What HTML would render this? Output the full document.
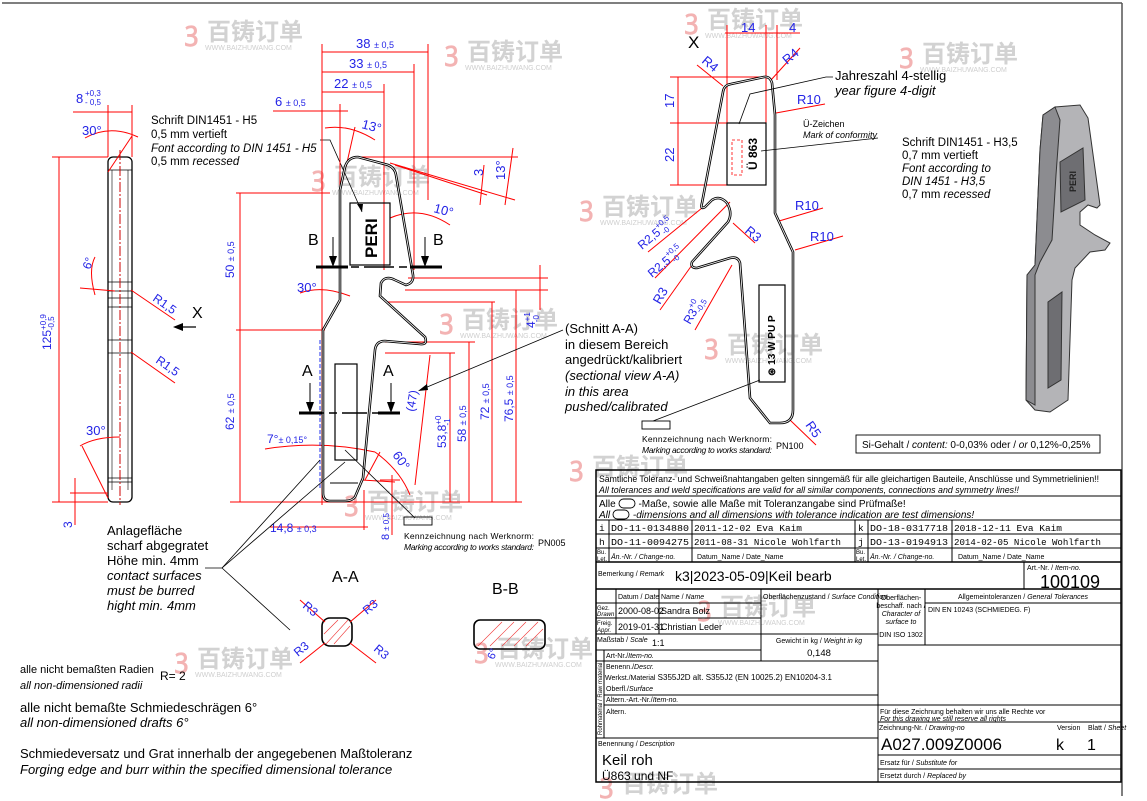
<!DOCTYPE html>
<html><head><meta charset="utf-8"><style>
html,body{margin:0;padding:0;background:#fff;}
svg{display:block;font-family:"Liberation Sans",Arial,sans-serif;}
.b{fill:#2323e6}
.r{stroke:#f00;stroke-width:1;fill:none}
.k{stroke:#000;fill:none}
.wm{fill:#d2d2d2;font-weight:bold;font-family:"Liberation Sans","Noto Sans CJK SC",sans-serif}
.wp{fill:#f3b3b3;font-weight:bold}
.ws{fill:#cfcfcf;font-size:7px}
.t{font-size:7px}
.mono{font-family:"Liberation Mono","DejaVu Sans Mono",monospace;font-size:9.5px}
</style></head><body>
<svg width="1147" height="801" viewBox="0 0 1147 801" xmlns="http://www.w3.org/2000/svg">
<rect x="0" y="0" width="1147" height="801" fill="#fff"/>
<g>
<g transform="translate(185,20)"><text class="wp" x="0" y="20" font-size="26">ꝫ</text><text class="wm" x="22" y="20" font-size="24">百铸订单</text><text class="ws" x="20" y="30">WWW.BAIZHUWANG.COM</text></g>
<g transform="translate(445,40)"><text class="wp" x="0" y="20" font-size="26">ꝫ</text><text class="wm" x="22" y="20" font-size="24">百铸订单</text><text class="ws" x="20" y="30">WWW.BAIZHUWANG.COM</text></g>
<g transform="translate(685,8)"><text class="wp" x="0" y="20" font-size="26">ꝫ</text><text class="wm" x="22" y="20" font-size="24">百铸订单</text><text class="ws" x="20" y="30">WWW.BAIZHUWANG.COM</text></g>
<g transform="translate(900,42)"><text class="wp" x="0" y="20" font-size="26">ꝫ</text><text class="wm" x="22" y="20" font-size="24">百铸订单</text><text class="ws" x="20" y="30">WWW.BAIZHUWANG.COM</text></g>
<g transform="translate(312,165)"><text class="wp" x="0" y="20" font-size="26">ꝫ</text><text class="wm" x="22" y="20" font-size="24">百铸订单</text><text class="ws" x="20" y="30">WWW.BAIZHUWANG.COM</text></g>
<g transform="translate(580,195)"><text class="wp" x="0" y="20" font-size="26">ꝫ</text><text class="wm" x="22" y="20" font-size="24">百铸订单</text><text class="ws" x="20" y="30">WWW.BAIZHUWANG.COM</text></g>
<g transform="translate(440,308)"><text class="wp" x="0" y="20" font-size="26">ꝫ</text><text class="wm" x="22" y="20" font-size="24">百铸订单</text><text class="ws" x="20" y="30">WWW.BAIZHUWANG.COM</text></g>
<g transform="translate(705,333)"><text class="wp" x="0" y="20" font-size="26">ꝫ</text><text class="wm" x="22" y="20" font-size="24">百铸订单</text><text class="ws" x="20" y="30">WWW.BAIZHUWANG.COM</text></g>
<g transform="translate(570,455)"><text class="wp" x="0" y="20" font-size="26">ꝫ</text><text class="wm" x="22" y="20" font-size="24">百铸订单</text></g>
<g transform="translate(345,490)"><text class="wp" x="0" y="20" font-size="26">ꝫ</text><text class="wm" x="22" y="20" font-size="24">百铸订单</text><text class="ws" x="20" y="30">WWW.BAIZHUWANG.COM</text></g>
<g transform="translate(698,595)"><text class="wp" x="0" y="20" font-size="26">ꝫ</text><text class="wm" x="22" y="20" font-size="24">百铸订单</text><text class="ws" x="20" y="30">WWW.BAIZHUWANG.COM</text></g>
<g transform="translate(475,637)"><text class="wp" x="0" y="20" font-size="26">ꝫ</text><text class="wm" x="22" y="20" font-size="24">百铸订单</text><text class="ws" x="20" y="30">WWW.BAIZHUWANG.COM</text></g>
<g transform="translate(175,647)"><text class="wp" x="0" y="20" font-size="26">ꝫ</text><text class="wm" x="22" y="20" font-size="24">百铸订单</text><text class="ws" x="20" y="30">WWW.BAIZHUWANG.COM</text></g>
<g transform="translate(600,772)"><text class="wp" x="0" y="20" font-size="26">ꝫ</text><text class="wm" x="22" y="20" font-size="24">百铸订单</text></g>
</g>

<line x1="2" y1="3" x2="1122" y2="3" stroke="#555" stroke-width="1.5"/>
<line x1="1122" y1="3" x2="1122" y2="796" stroke="#555" stroke-width="1.5"/>

<g>
<rect x="108" y="157" width="24" height="345" rx="5" class="k" stroke-width="1.3"/>
<line x1="112" y1="170" x2="112" y2="490" class="k" stroke-width=".6"/>
<line x1="128" y1="170" x2="128" y2="490" class="k" stroke-width=".6"/>
<g class="k" stroke-width=".8">
<line x1="108" y1="170" x2="132" y2="170"/><line x1="108" y1="282" x2="132" y2="282"/><line x1="108" y1="291" x2="132" y2="291"/><line x1="108" y1="298" x2="132" y2="298"/><line x1="108" y1="307" x2="132" y2="307"/><line x1="108" y1="340" x2="132" y2="340"/><line x1="108" y1="353" x2="132" y2="353"/><line x1="108" y1="478" x2="132" y2="478"/><line x1="108" y1="482" x2="132" y2="482"/>
</g>
<line x1="120" y1="150" x2="120" y2="505" stroke="#c00" stroke-width="1" stroke-dasharray="10,2,2,2"/>
<g class="r">
<line x1="59" y1="157" x2="59" y2="502"/><line x1="52" y1="157" x2="108" y2="157"/><line x1="52" y1="502" x2="108" y2="502"/>
<line x1="73" y1="112" x2="132" y2="112"/><line x1="108" y1="105" x2="108" y2="157"/><line x1="132" y1="105" x2="132" y2="157"/>
<path d="M85,138 Q110,124 138,137"/><line x1="108" y1="172" x2="132" y2="136"/>
<path d="M95,257 Q88,270 95,295"/><line x1="80" y1="288" x2="115" y2="291"/>
<line x1="131" y1="290" x2="175" y2="320"/><line x1="131" y1="352" x2="175" y2="383"/>
<path d="M80,446 Q95,437 120,437"/><line x1="82" y1="446" x2="108" y2="498"/>
<line x1="75" y1="478" x2="75" y2="525"/><line x1="70" y1="493" x2="108" y2="493"/>
</g>
<text class="b" font-size="12" transform="translate(51,350) rotate(-90)">125<tspan font-size="8" dy="-5">+0,9</tspan><tspan font-size="8" dx="-16" dy="8">-0,5</tspan></text>
<text class="b" x="76" y="103" font-size="13">8</text><text class="b" x="85" y="96" font-size="8">+0,3</text><text class="b" x="85" y="105" font-size="8">- 0,5</text>
<text class="b" x="82" y="135" font-size="13">30°</text>
<text class="b" font-size="12" transform="translate(90,270) rotate(-70)">6°</text>
<text class="b" font-size="12" transform="translate(152,300) rotate(35)">R1,5</text>
<text class="b" font-size="12" transform="translate(155,362) rotate(35)">R1,5</text>
<text class="b" x="86" y="435" font-size="13">30°</text>
<text class="b" font-size="12" transform="translate(72,528) rotate(-90)">3</text>
<text x="192" y="318" font-size="16">X</text>
<line x1="178" y1="327" x2="196" y2="327" stroke="#000" stroke-width="1.2"/><path d="M173,327 L183,323 L183,331 Z" fill="#000"/>
</g>

<g font-size="11.5">
<text x="151" y="124">Schrift DIN1451 - H5</text>
<text x="151" y="138">0,5 mm vertieft</text>
<text x="151" y="152" font-style="italic">Font according to DIN 1451 - H5</text>
<text x="151" y="165">0,5 mm <tspan font-style="italic">recessed</tspan></text>
</g>
<polyline points="320,140 330,140 362,212" fill="none" stroke="#000" stroke-width=".8"/>
<path d="M362,212 L357,204 L363,204 Z" fill="#000"/>

<g class="r">
<line x1="322" y1="44" x2="322" y2="505"/><line x1="428" y1="44" x2="428" y2="200"/><line x1="414" y1="64" x2="414" y2="270"/><line x1="384" y1="84" x2="384" y2="270"/><line x1="340" y1="104" x2="340" y2="195"/>
<line x1="322" y1="52" x2="428" y2="52"/><line x1="322" y1="72" x2="414" y2="72"/><line x1="322" y1="92" x2="384" y2="92"/><line x1="273" y1="111" x2="348" y2="111"/>
<path d="M325,128 Q350,124 375,140"/><line x1="346" y1="167" x2="355" y2="127"/>
<line x1="358" y1="157" x2="518" y2="157"/><line x1="395" y1="165" x2="487" y2="195"/><line x1="390" y1="163" x2="515" y2="200"/>
<line x1="484" y1="165" x2="480" y2="205"/><line x1="513" y1="148" x2="505" y2="205"/>
<path d="M390,218 Q420,205 450,225"/>
<path d="M300,293 Q322,285 350,296"/>
<line x1="236" y1="193" x2="330" y2="193"/><line x1="240" y1="193" x2="240" y2="502"/><line x1="236" y1="330" x2="325" y2="330"/>
<line x1="230" y1="502" x2="522" y2="502"/>
<line x1="408" y1="278" x2="548" y2="278"/><line x1="405" y1="290" x2="548" y2="290"/><line x1="540" y1="265" x2="540" y2="310"/><line x1="516" y1="290" x2="516" y2="502"/>
<line x1="385" y1="302" x2="495" y2="302"/><line x1="492" y1="302" x2="492" y2="502"/>
<line x1="385" y1="342" x2="475" y2="342"/><line x1="469" y1="342" x2="469" y2="502"/>
<line x1="385" y1="353" x2="455" y2="353"/><line x1="450" y1="353" x2="450" y2="502"/>
<line x1="430" y1="355" x2="415" y2="485"/>
<line x1="362" y1="480" x2="395" y2="482"/>
<path d="M265,449 Q320,440 375,452"/><path d="M375,452 Q400,470 410,495"/><line x1="365" y1="480" x2="380" y2="452"/>
<line x1="270" y1="527" x2="368" y2="527"/><line x1="364" y1="490" x2="364" y2="530"/>
<line x1="392" y1="475" x2="392" y2="535"/><line x1="380" y1="480" x2="400" y2="480"/>
</g>
<line x1="320" y1="340" x2="320" y2="490" stroke="#23e" stroke-width="1" stroke-dasharray="4,2"/>
<path d="M323,493 L323,330 L340,300 L340,190 L345,167 Q348,157 358,157 L388,165 Q395,168 396,175 L413,275 Q414,283 406,285 L395,280 Q385,275 381,283 L380,296 L425,337 Q428,345 420,344 L385,341 Q376,341 375,350 L363,478 L355,497 Q352,501 345,501 L330,501 Q323,501 323,493 Z" fill="none" stroke="#000" stroke-width="2.6"/>
<path d="M323,493 L323,330 L340,300 L340,190 L345,167 Q348,157 358,157 L388,165 Q395,168 396,175 L413,275 Q414,283 406,285 L395,280 Q385,275 381,283 L380,296 L425,337 Q428,345 420,344 L385,341 Q376,341 375,350 L363,478 L355,497 Q352,501 345,501 L330,501 Q323,501 323,493 Z" fill="none" stroke="#fff" stroke-width=".8"/>
<line x1="330" y1="483" x2="358" y2="483" stroke="#000" stroke-width="1"/>
<rect x="350" y="203" width="40" height="62" fill="none" stroke="#000" stroke-width="1.2"/>
<text font-size="17" font-weight="bold" transform="translate(377,258) rotate(-90)">PERI</text>
<rect x="335" y="364" width="22" height="96" fill="none" stroke="#000" stroke-width="1.2"/>
<line x1="316" y1="267" x2="442" y2="267" stroke="#000" stroke-width="1.5" stroke-dasharray="30,5,8,5"/>
<line x1="316" y1="267" x2="348" y2="267" stroke="#000" stroke-width="3"/><line x1="410" y1="267" x2="442" y2="267" stroke="#000" stroke-width="3"/>
<line x1="333" y1="237" x2="333" y2="262" stroke="#000"/><path d="M329,256 L337,256 L333,267 Z" fill="#000"/>
<line x1="425" y1="237" x2="425" y2="262" stroke="#000"/><path d="M421,256 L429,256 L425,267 Z" fill="#000"/>
<text x="308" y="245" font-size="16">B</text><text x="433" y="245" font-size="16">B</text>
<line x1="299" y1="413" x2="400" y2="413" stroke="#000" stroke-width="1.5" stroke-dasharray="25,5,8,5"/>
<line x1="299" y1="413" x2="322" y2="413" stroke="#000" stroke-width="3"/><line x1="378" y1="413" x2="400" y2="413" stroke="#000" stroke-width="3"/>
<line x1="310" y1="383" x2="310" y2="408" stroke="#000"/><path d="M306,402 L314,402 L310,413 Z" fill="#000"/>
<line x1="391" y1="383" x2="391" y2="408" stroke="#000"/><path d="M387,402 L395,402 L391,413 Z" fill="#000"/>
<text x="302" y="376" font-size="16">A</text><text x="383" y="376" font-size="16">A</text>
<text class="b" x="356" y="48" font-size="13">38 <tspan font-size="9">± 0,5</tspan></text>
<text class="b" x="349" y="68" font-size="13">33 <tspan font-size="9">± 0,5</tspan></text>
<text class="b" x="334" y="88" font-size="13">22 <tspan font-size="9">± 0,5</tspan></text>
<text class="b" x="275" y="106" font-size="13">6 <tspan font-size="9">± 0,5</tspan></text>
<text class="b" font-size="13" transform="translate(361,128) rotate(15)">13°</text>
<text class="b" font-size="13" transform="translate(483,176) rotate(-90)">3</text>
<text class="b" font-size="13" transform="translate(505,180) rotate(-90)">13°</text>
<text class="b" font-size="13" transform="translate(433,212) rotate(15)">10°</text>
<text class="b" x="297" y="292" font-size="13">30°</text>
<text class="b" font-size="12" transform="translate(234,278) rotate(-90)">50 <tspan font-size="9">± 0,5</tspan></text>
<text class="b" font-size="12" transform="translate(234,430) rotate(-90)">62 <tspan font-size="9">± 0,5</tspan></text>
<text class="b" font-size="12" transform="translate(535,328) rotate(-90)">4<tspan font-size="8" dy="-5">+1</tspan><tspan font-size="8" dx="-10" dy="9">-0</tspan></text>
<text class="b" font-size="12" transform="translate(513,422) rotate(-90)">76,5 <tspan font-size="9">± 0,5</tspan></text>
<text class="b" font-size="12" transform="translate(489,420) rotate(-90)">72 <tspan font-size="9">± 0,5</tspan></text>
<text class="b" font-size="12" transform="translate(466,442) rotate(-90)">58 <tspan font-size="9">± 0,5</tspan></text>
<text class="b" font-size="12" transform="translate(446,448) rotate(-90)">53,8<tspan font-size="8" dy="-5">+0</tspan><tspan font-size="8" dx="-10" dy="9">-1</tspan></text>
<text class="b" font-size="12" transform="translate(414,412) rotate(-80)">(47)</text>
<text class="b" x="267" y="443" font-size="12">7°<tspan font-size="9">± 0,15°</tspan></text>
<text class="b" font-size="13" transform="translate(392,455) rotate(55)">60°</text>
<text class="b" x="270" y="532" font-size="12">14,8 <tspan font-size="9">± 0,3</tspan></text>
<text class="b" font-size="11" transform="translate(389,540) rotate(-90)">8 <tspan font-size="8">± 0,5</tspan></text>
<g font-size="13">
<text x="565" y="333">(Schnitt A-A)</text>
<text x="565" y="349">in diesem Bereich</text>
<text x="565" y="364">angedrückt/kalibriert</text>
<text x="565" y="380" font-style="italic">(sectional view A-A)</text>
<text x="565" y="396" font-style="italic">in this area</text>
<text x="565" y="411" font-style="italic">pushed/calibrated</text>
</g>
<line x1="563" y1="330" x2="420" y2="390" stroke="#000" stroke-width=".8"/><path d="M418,391 L427,384 L428,390 Z" fill="#000"/>
<line x1="345" y1="450" x2="415" y2="518" stroke="#000" stroke-width=".8"/>
<rect x="404" y="517" width="28" height="8" fill="none" stroke="#000" stroke-width=".9"/>
<text x="404" y="539" font-size="8.5" textLength="130">Kennzeichnung    nach    Werknorm:</text>
<text x="404" y="550" font-size="8.5" font-style="italic" textLength="130">Marking according to works standard:</text>
<text x="538" y="546" font-size="9">PN005</text>
<g font-size="13">
<text x="107" y="535">Anlagefläche</text>
<text x="107" y="550">scharf abgegratet</text>
<text x="107" y="565">Höhe min. 4mm</text>
<text x="107" y="580" font-style="italic">contact surfaces</text>
<text x="107" y="595" font-style="italic">must be burred</text>
<text x="107" y="610" font-style="italic">hight min. 4mm</text>
</g>
<polyline points="205,568 222,568 320,460" fill="none" stroke="#000" stroke-width=".8"/>
<line x1="222" y1="568" x2="290" y2="630" stroke="#000" stroke-width=".8"/>
<line x1="222" y1="568" x2="345" y2="462" stroke="#000" stroke-width=".8"/>
<text x="332" y="582" font-size="16">A-A</text>
<rect x="322" y="618" width="30" height="28" rx="8" fill="none" stroke="#000" stroke-width="1.6"/>
<g stroke="#e33" stroke-width=".6"><line x1="326" y1="644" x2="348" y2="620"/><line x1="334" y1="644" x2="350" y2="626"/><line x1="324" y1="634" x2="338" y2="620"/></g>
<g class="r"><line x1="300" y1="600" x2="325" y2="622"/><line x1="376" y1="600" x2="350" y2="622"/><line x1="300" y1="663" x2="325" y2="643"/><line x1="376" y1="663" x2="350" y2="643"/></g>
<text class="b" font-size="12" transform="translate(302,607) rotate(40)">R3</text>
<text class="b" font-size="12" transform="translate(367,615) rotate(-40)">R3</text>
<text class="b" font-size="12" transform="translate(298,657) rotate(-40)">R3</text>
<text class="b" font-size="12" transform="translate(373,650) rotate(40)">R3</text>
<text x="492" y="594" font-size="16">B-B</text>
<rect x="474" y="620" width="71" height="29" rx="6" fill="none" stroke="#000" stroke-width="1.6"/>
<g stroke="#e33" stroke-width=".6"><line x1="478" y1="646" x2="502" y2="622"/><line x1="490" y1="646" x2="514" y2="622"/><line x1="502" y1="646" x2="526" y2="622"/><line x1="514" y1="646" x2="538" y2="622"/><line x1="526" y1="646" x2="543" y2="629"/></g>
<text class="b" font-size="11" transform="translate(494,660) rotate(-70)">6°</text>
<text x="20" y="673" font-size="11">alle nicht bemaßten Radien</text><text x="160" y="680" font-size="12">R= 2</text>
<text x="20" y="689" font-size="11" font-style="italic">all   non-dimensioned radii</text>
<text x="20" y="712" font-size="13">alle nicht bemaßte Schmiedeschrägen 6°</text>
<text x="20" y="727" font-size="13" font-style="italic">all non-dimensioned drafts 6°</text>
<text x="20" y="758" font-size="13">Schmiedeversatz und Grat innerhalb der angegebenen Maßtoleranz</text>
<text x="20" y="774" font-size="13" font-style="italic">Forging edge and burr within the specified dimensional tolerance</text>

<g class="r">
<line x1="727" y1="25" x2="727" y2="125"/><line x1="766" y1="25" x2="766" y2="125"/><line x1="777" y1="25" x2="777" y2="80"/>
<line x1="725" y1="33" x2="800" y2="33"/>
<line x1="670" y1="77" x2="765" y2="77"/><line x1="670" y1="123" x2="727" y2="123"/><line x1="670" y1="185" x2="727" y2="185"/><line x1="678" y1="77" x2="678" y2="185"/>
<line x1="697" y1="65" x2="723" y2="86"/><line x1="800" y1="48" x2="771" y2="80"/>
<line x1="776" y1="113" x2="825" y2="104"/><line x1="779" y1="221" x2="823" y2="208"/><line x1="795" y1="250" x2="843" y2="236"/>
<line x1="648" y1="252" x2="702" y2="208"/><line x1="655" y1="278" x2="730" y2="202"/>
<line x1="733" y1="223" x2="755" y2="243"/>
<line x1="660" y1="310" x2="692" y2="265"/><line x1="695" y1="330" x2="732" y2="265"/>
<line x1="790" y1="420" x2="816" y2="445"/>
</g>
<path d="M723,92 Q724,85 731,84 L764,77 Q770,76 772,83 L775,115 L775,213 L793,252 L793,410 Q793,423 780,423 L770,423 L750,398 L740,263 Q738,256 730,258 L697,268 Q690,268 692,262 L728,222 Q733,213 727,203 Q720,195 712,200 L705,207 Q700,210 702,203 Z" fill="none" stroke="#000" stroke-width="2.6"/>
<path d="M723,92 Q724,85 731,84 L764,77 Q770,76 772,83 L775,115 L775,213 L793,252 L793,410 Q793,423 780,423 L770,423 L750,398 L740,263 Q738,256 730,258 L697,268 Q690,268 692,262 L728,222 Q733,213 727,203 Q720,195 712,200 L705,207 Q700,210 702,203 Z" fill="none" stroke="#fff" stroke-width=".8"/>
<rect x="727" y="123" width="39" height="62" fill="none" stroke="#000" stroke-width="1.2"/>
<rect x="732" y="140" width="10" height="35" fill="none" stroke="#f00" stroke-width=".8" stroke-dasharray="3,2"/>
<text font-size="12" font-weight="bold" transform="translate(757,170) rotate(-90)">Ü 863</text>
<rect x="759" y="285" width="26" height="97" fill="none" stroke="#000" stroke-width="1.2"/>
<text font-size="10" font-weight="bold" transform="translate(775,376) rotate(-90)">⊛ 13 W PU P</text>
<text x="688" y="48" font-size="17">X</text>
<text class="b" x="741" y="32" font-size="13">14</text><text class="b" x="789" y="32" font-size="13">4</text>
<text class="b" font-size="13" transform="translate(701,62) rotate(40)">R4</text>
<text class="b" font-size="13" transform="translate(787,65) rotate(-40)">R4</text>
<text class="b" font-size="13" transform="translate(674,108) rotate(-90)">17</text>
<text class="b" font-size="13" transform="translate(674,162) rotate(-90)">22</text>
<text class="b" x="797" y="104" font-size="13">R10</text>
<text class="b" x="795" y="210" font-size="13">R10</text>
<text class="b" x="810" y="241" font-size="13">R10</text>
<text class="b" font-size="12" transform="translate(642,250) rotate(-40)">R2,5<tspan font-size="8" dy="-6">+0,5</tspan><tspan font-size="8" dx="-14" dy="9">-0</tspan></text>
<text class="b" font-size="12" transform="translate(652,278) rotate(-40)">R2,5<tspan font-size="8" dy="-6">+0,5</tspan><tspan font-size="8" dx="-14" dy="9">-0</tspan></text>
<text class="b" font-size="13" transform="translate(744,232) rotate(40)">R3</text>
<text class="b" font-size="13" transform="translate(660,305) rotate(-60)">R3</text>
<text class="b" font-size="12" transform="translate(690,325) rotate(-60)">R3<tspan font-size="8" dy="-6">+0</tspan><tspan font-size="8" dx="-9" dy="9">-0,5</tspan></text>
<text class="b" font-size="13" transform="translate(805,425) rotate(55)">R5</text>
<polyline points="833,77 826,77 750,94 739,124" fill="none" stroke="#000" stroke-width=".8"/>
<text x="835" y="80" font-size="13">Jahreszahl 4-stellig</text>
<text x="835" y="95" font-size="13" font-style="italic">year figure 4-digit</text>
<text x="803" y="127" font-size="9">Ü-Zeichen</text>
<text x="803" y="138" font-size="9" font-style="italic">Mark of conformity</text>
<line x1="878" y1="138" x2="761" y2="151" stroke="#000" stroke-width=".8"/>
<g font-size="11.5">
<text x="902" y="146">Schrift DIN1451 - H3,5</text>
<text x="902" y="159">0,7 mm vertieft</text>
<text x="902" y="172" font-style="italic">Font according to</text>
<text x="902" y="185" font-style="italic">DIN 1451 - H3,5</text>
<text x="902" y="198">0,7 mm <tspan font-style="italic">recessed</tspan></text>
</g>
<line x1="760" y1="380" x2="653" y2="421" stroke="#000" stroke-width=".8"/>
<rect x="642" y="421" width="28" height="8" fill="none" stroke="#000" stroke-width=".9"/>
<text x="642" y="442" font-size="8.5" textLength="130">Kennzeichnung    nach    Werknorm:</text>
<text x="642" y="453" font-size="8.5" font-style="italic" textLength="130">Marking according to works standard:</text>
<text x="776" y="449" font-size="9">PN100</text>
<rect x="856" y="435" width="244" height="18" fill="none" stroke="#000" stroke-width=".9"/>
<text x="862" y="448" font-size="10">Si-Gehalt / <tspan font-style="italic">content:</tspan> 0-0,03% oder / <tspan font-style="italic">or</tspan> 0,12%-0,25%</text>

<!-- 3D render -->
<g stroke="#333" stroke-width="1">
<path d="M1043,115 L1055,107 L1080,105 L1088,118 L1100,205 L1097,208 L1088,205 L1080,212 L1080,225 L1095,235 L1110,243 L1105,250 L1090,252 L1075,268 L1072,280 L1068,400 L1050,412 L1035,410 L1026,400 L1027,275 L1035,265 L1040,150 Z" fill="#b4b4b7"/>
<path d="M1043,115 L1055,107 L1060,120 L1056,175 L1052,240 L1040,262 L1035,275 L1035,405 L1026,400 L1027,275 L1035,265 L1040,150 Z" fill="#8c8c90"/>
<path d="M1060,162 L1083,148 L1085,200 L1061,212 Z" fill="#6e6e72"/>
<path d="M1048,302 L1062,292 L1061,380 L1048,388 Z" fill="#6e6e72"/>
</g>
<text font-size="9" font-weight="bold" transform="translate(1076,192) rotate(-90)" fill="#222">PERI</text>

<!-- Title block -->
<g stroke="#000" stroke-width="1" fill="none">
<rect x="596" y="470" width="525" height="312" stroke-width="1.5"/>
<line x1="596" y1="496" x2="1121" y2="496"/><line x1="596" y1="520" x2="1121" y2="520"/><line x1="596" y1="534" x2="1121" y2="534"/><line x1="596" y1="548" x2="1121" y2="548"/><line x1="596" y1="562" x2="1121" y2="562" stroke-width="1.5"/><line x1="596" y1="589" x2="1121" y2="589" stroke-width="1.5"/>
<line x1="609" y1="520" x2="609" y2="562"/><line x1="692" y1="520" x2="692" y2="562"/><line x1="855" y1="520" x2="855" y2="562"/><line x1="868" y1="520" x2="868" y2="562"/><line x1="952" y1="520" x2="952" y2="562"/>
<line x1="1024" y1="562" x2="1024" y2="589"/>
<line x1="596" y1="603" x2="761" y2="603"/><line x1="616" y1="589" x2="616" y2="634"/><line x1="659" y1="589" x2="659" y2="634"/><line x1="596" y1="618" x2="761" y2="618"/><line x1="596" y1="634" x2="878" y2="634"/>
<line x1="761" y1="589" x2="761" y2="661"/><line x1="878" y1="589" x2="878" y2="782"/><line x1="925" y1="589" x2="925" y2="645"/>
<line x1="925" y1="603" x2="1121" y2="603"/><line x1="878" y1="645" x2="1121" y2="645"/>
<line x1="596" y1="650" x2="761" y2="650"/><line x1="596" y1="661" x2="878" y2="661"/>
<line x1="604" y1="650" x2="604" y2="738"/>
<line x1="604" y1="695" x2="878" y2="695"/><line x1="604" y1="705" x2="878" y2="705"/><line x1="596" y1="738" x2="878" y2="738"/>
<line x1="878" y1="705" x2="1121" y2="705"/><line x1="878" y1="722" x2="1121" y2="722"/><line x1="878" y1="755" x2="1121" y2="755"/><line x1="878" y1="769" x2="1121" y2="769"/>
</g>
<text x="599" y="482" font-size="9.5" textLength="500" lengthAdjust="spacingAndGlyphs">Sämtliche Toleranz- und Schweißnahtangaben gelten sinngemäß für alle gleichartigen Bauteile, Anschlüsse und Symmetrielinien!!</text>
<text x="599" y="493" font-size="9.5" font-style="italic" textLength="420" lengthAdjust="spacingAndGlyphs">All tolerances and weld specifications are valid for all similar components, connections and symmetry lines!!</text>
<text x="599" y="507" font-size="10">Alle <tspan dx="20">-Maße, sowie alle Maße mit Toleranzangabe sind Prüfmaße!</tspan></text>
<text x="599" y="518" font-size="10" font-style="italic">All <tspan dx="20">-dimensions and all dimensions with tolerance indication are test dimensions!</tspan></text>
<rect x="619" y="499" width="16" height="9" rx="4.5" fill="none" stroke="#000" stroke-width=".9"/>
<rect x="613" y="510" width="16" height="9" rx="4.5" fill="none" stroke="#000" stroke-width=".9"/>
<g class="mono">
<text x="599" y="531">i</text><text x="611" y="531" textLength="78" lengthAdjust="spacingAndGlyphs">DO-11-0134880</text><text x="694" y="531" textLength="108" lengthAdjust="spacingAndGlyphs">2011-12-02 Eva Kaim</text><text x="858" y="531">k</text><text x="870" y="531" textLength="78" lengthAdjust="spacingAndGlyphs">DO-18-0317718</text><text x="954" y="531" textLength="108" lengthAdjust="spacingAndGlyphs">2018-12-11 Eva Kaim</text>
<text x="599" y="545">h</text><text x="611" y="545" textLength="78" lengthAdjust="spacingAndGlyphs">DO-11-0094275</text><text x="694" y="545" textLength="147" lengthAdjust="spacingAndGlyphs">2011-08-31 Nicole Wohlfarth</text><text x="858" y="545">j</text><text x="870" y="545" textLength="78" lengthAdjust="spacingAndGlyphs">DO-13-0194913</text><text x="954" y="545" textLength="147" lengthAdjust="spacingAndGlyphs">2014-02-05 Nicole Wohlfarth</text>
</g>
<g class="t">
<text x="597" y="554" font-size="6">Bu.</text><text x="597" y="561" font-size="6">Let.</text>
<text x="611" y="559" font-style="italic">Än.-Nr. / Change-no.</text><text x="697" y="559">Datum_Name / Date_Name</text>
<text x="856" y="554" font-size="6">Bu.</text><text x="856" y="561" font-size="6">Let.</text>
<text x="870" y="559" font-style="italic">Än.-Nr. / Change-no.</text><text x="958" y="559">Datum_Name / Date_Name</text>
<text x="598" y="576">Bemerkung / <tspan font-style="italic">Remark</tspan></text>
<text x="1027" y="570">Art.-Nr. / <tspan font-style="italic">Item-no.</tspan></text>
<text x="618" y="599">Datum / <tspan font-style="italic">Date</tspan></text>
<text x="661" y="599">Name / <tspan font-style="italic">Name</tspan></text>
<text x="763" y="599">Oberflächenzustand / <tspan font-style="italic">Surface Condition</tspan></text>
<text x="1023" y="599" text-anchor="middle">Allgemeintoleranzen / <tspan font-style="italic">General Tolerances</tspan></text>
<text x="901" y="600" text-anchor="middle">Oberflächen-</text><text x="901" y="608" text-anchor="middle">beschaff. nach /</text><text x="901" y="616" text-anchor="middle" font-style="italic">Character of</text><text x="901" y="624" text-anchor="middle" font-style="italic">surface to</text><text x="901" y="637" text-anchor="middle">DIN ISO 1302</text>
<text x="928" y="612">DIN EN 10243 (SCHMIEDEG. F)</text>
<text x="597" y="610" font-size="6">Gez.</text><text x="597" y="616" font-size="6" font-style="italic">Drawn</text>
<text x="597" y="625" font-size="6">Freig.</text><text x="597" y="632" font-size="6" font-style="italic">Appr.</text>
<text x="597" y="642">Maßstab / <tspan font-style="italic">Scale</tspan></text>
<text x="819" y="643" text-anchor="middle">Gewicht in kg / <tspan font-style="italic">Weight in kg</tspan></text>
<text x="606" y="658">Art-Nr./<tspan font-style="italic">Item-no.</tspan></text>
<text x="606" y="669">Benenn./<tspan font-style="italic">Descr.</tspan></text>
<text x="606" y="691">Oberfl./<tspan font-style="italic">Surface</tspan></text>
<text x="606" y="702">Altern.-Art.-Nr./<tspan font-style="italic">Item-no.</tspan></text>
<text x="606" y="714">Altern.</text>
<text x="598" y="746">Benennung / <tspan font-style="italic">Description</tspan></text>
<text x="880" y="714">Für diese Zeichnung behalten wir uns alle Rechte vor</text>
<text x="880" y="721" font-style="italic">For this drawing we still reserve all rights</text>
<text x="879" y="730">Zeichnung-Nr. / <tspan font-style="italic">Drawing-no</tspan></text>
<text x="1057" y="730">Version</text><text x="1088" y="730">Blatt / <tspan font-style="italic">Sheet</tspan></text>
<text x="880" y="765">Ersatz für / <tspan font-style="italic">Substitute for</tspan></text>
<text x="880" y="778">Ersetzt durch / <tspan font-style="italic">Replaced by</tspan></text>
<text font-size="6" transform="translate(602,735) rotate(-90)">Rohmaterial / Raw material</text>
</g>
<text x="605" y="680" font-size="8"><tspan font-size="7">Werkst./Material</tspan> S355J2D alt. S355J2 (EN 10025.2) EN10204-3.1</text>
<text x="675" y="581" font-size="14">k3|2023-05-09|Keil bearb</text>
<text x="1040" y="588" font-size="18">100109</text>
<text x="618" y="614" font-size="9">2000-08-02</text><text x="661" y="614" font-size="9">Sandra Bolz</text>
<text x="618" y="630" font-size="9">2019-01-31</text><text x="661" y="630" font-size="9">Christian Leder</text>
<text x="652" y="646" font-size="9">1:1</text>
<text x="819" y="656" font-size="9.5" text-anchor="middle">0,148</text>
<text x="881" y="750" font-size="17">A027.009Z0006</text>
<text x="1056" y="750" font-size="16">k</text><text x="1087" y="750" font-size="16">1</text>
<text x="602" y="765" font-size="15">Keil roh</text>
<text x="602" y="780" font-size="12">Ü863 und NF</text>
</svg>
</body></html>
